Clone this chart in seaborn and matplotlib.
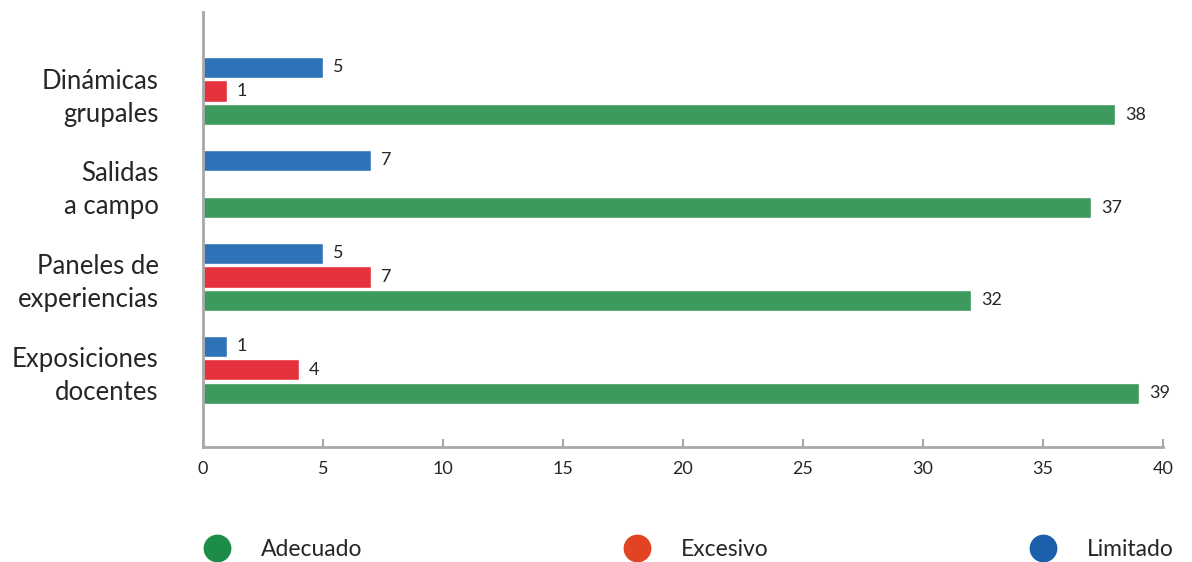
import pandas as pd
import matplotlib.pyplot as plt
import seaborn as sns
from matplotlib.lines import Line2D

# datos
categorias = ["Dinámicas\ngrupales", "Salidas\na campo", "Paneles de\nexperiencias", "Exposiciones\ndocentes"]
series = ["Limitado", "Excesivo", "Adecuado"]
limitado = [5, 7, 5, 1]
excesivo = [1, 0, 7, 4]
adecuado = [38, 37, 32, 39]
ticks_x = [0, 5, 10, 15, 20, 25, 30, 35, 40]

colores_barras = {"Limitado": "#2e72b8", "Excesivo": "#e5323d", "Adecuado": "#3c9a5d"}
colores_leyenda = {"Adecuado": "#1c8c48", "Excesivo": "#e24322", "Limitado": "#1c60ab"}

df = pd.DataFrame({
    "categoria": categorias * 3,
    "serie": ["Limitado"] * 4 + ["Excesivo"] * 4 + ["Adecuado"] * 4,
    "valor": limitado + excesivo + adecuado,
})

sns.set_style("white")
plt.rcParams['font.family'] = ['Lato', 'DejaVu Sans']

fig = plt.figure(figsize=(11.92, 5.62), dpi=100)
ax = fig.add_axes([0.1703, 0.2046, 0.8054, 0.774])

sns.barplot(data=df, y="categoria", x="valor", hue="serie", order=categorias,
            hue_order=series, palette=colores_barras, orient="h", saturation=1,
            width=0.76, gap=0.1, legend=False, ax=ax)

# etiquetas de valor (sin ceros)
for cont in ax.containers:
    labels = [f"{int(b.get_width())}" if b.get_width() > 0 else "" for b in cont]
    ax.bar_label(cont, labels=labels, padding=7, fontsize=13)

ax.set_xlim(0, 40)
ax.set_ylim(3.83, -0.85)
ax.set_xticks(ticks_x)
ax.set_xlabel("")
ax.set_ylabel("")

for s in ["top", "right"]:
    ax.spines[s].set_visible(False)
for s in ["left", "bottom"]:
    ax.spines[s].set_color("#a8a8a8")
    ax.spines[s].set_linewidth(2)

ax.tick_params(axis="x", direction="in", length=6, width=1.5, color="#a8a8a8",
               labelsize=13, pad=10, bottom=True)
ax.tick_params(axis="y", length=0, labelsize=18.5, pad=32)
for t in ax.get_yticklabels():
    t.set_linespacing(1.4)
    t.set_horizontalalignment("right")

# leyenda
orden_leyenda = ["Adecuado", "Excesivo", "Limitado"]
handles = [Line2D([0], [0], marker="o", linestyle="", markersize=19,
                  markerfacecolor=colores_leyenda[n], markeredgecolor=colores_leyenda[n])
           for n in orden_leyenda]
fig.legend(handles, orden_leyenda, loc="center", bbox_to_anchor=(0.5787, 0.022),
           ncol=3, frameon=False, fontsize=16.5, columnspacing=11.5,
           handletextpad=1.4, handlelength=1.0)

fig.savefig("out.png", dpi=100)
